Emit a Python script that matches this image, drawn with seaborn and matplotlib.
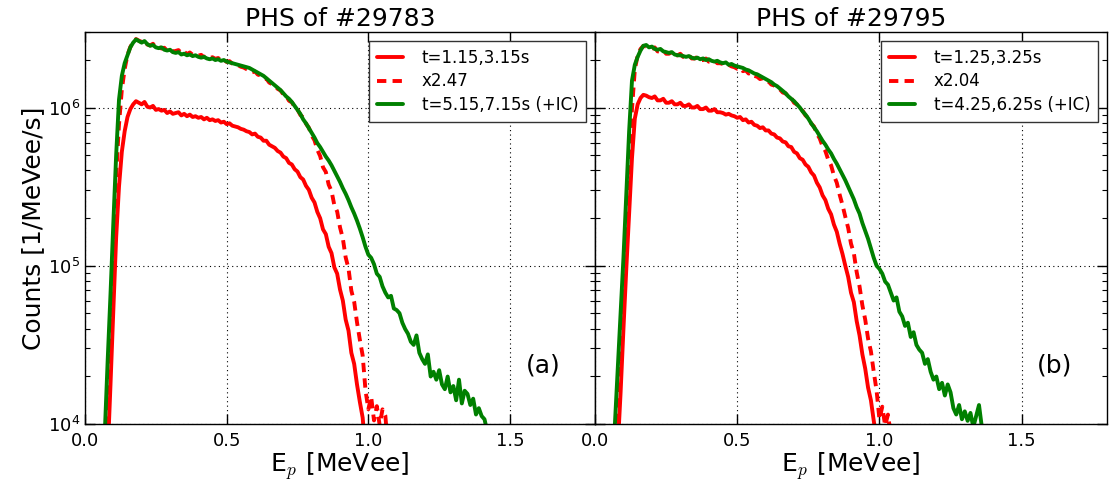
import numpy as np
import pandas as pd
import matplotlib
matplotlib.use("Agg")
import matplotlib.pyplot as plt
import seaborn as sns

nan = np.nan

# Energy bin centres [MeVee]
energy = [
    0.07, 0.08, 0.09, 0.10, 0.11, 0.12, 0.13, 0.14, 0.15, 0.16,
    0.17, 0.18, 0.19, 0.20, 0.21, 0.22, 0.23, 0.24, 0.25, 0.26,
    0.27, 0.28, 0.29, 0.30, 0.31, 0.32, 0.33, 0.34, 0.35, 0.36,
    0.37, 0.38, 0.39, 0.40, 0.41, 0.42, 0.43, 0.44, 0.45, 0.46,
    0.47, 0.48, 0.49, 0.50, 0.51, 0.52, 0.53, 0.54, 0.55, 0.56,
    0.57, 0.58, 0.59, 0.60, 0.61, 0.62, 0.63, 0.64, 0.65, 0.66,
    0.67, 0.68, 0.69, 0.70, 0.71, 0.72, 0.73, 0.74, 0.75, 0.76,
    0.77, 0.78, 0.79, 0.80, 0.81, 0.82, 0.83, 0.84, 0.85, 0.86,
    0.87, 0.88, 0.89, 0.90, 0.91, 0.92, 0.93, 0.94, 0.95, 0.96,
    0.97, 0.98, 0.99, 1.00, 1.01, 1.02, 1.03, 1.04, 1.05, 1.06,
    1.07, 1.08, 1.09, 1.10, 1.11, 1.12, 1.13, 1.14, 1.15, 1.16,
    1.17, 1.18, 1.19, 1.20, 1.21, 1.22, 1.23, 1.24, 1.25, 1.26,
    1.27, 1.28, 1.29, 1.30, 1.31, 1.32, 1.33, 1.34, 1.35, 1.36,
    1.37, 1.38, 1.39, 1.40, 1.41, 1.42, 1.43, 1.44, 1.45, 1.46,
]

# log10(counts [1/MeVee/s])
# --- #29783 ---
log_red_a = [
    3.40, 3.80, 4.25, 4.72, 5.18, 5.50, 5.72, 5.85, 5.94, 5.99,
    6.02, 6.04, 6.03, 6.02, 6.035, 6.005, 6.00, 6.01, 5.985, 5.99,
    5.98, 5.985, 5.965, 5.975, 5.96, 5.965, 5.97, 5.95, 5.96, 5.945,
    5.955, 5.94, 5.945, 5.935, 5.94, 5.925, 5.935, 5.92, 5.925, 5.915,
    5.92, 5.905, 5.91, 5.895, 5.90, 5.885, 5.88, 5.875, 5.865, 5.86,
    5.85, 5.845, 5.83, 5.835, 5.815, 5.81, 5.79, 5.79, 5.765, 5.755,
    5.745, 5.725, 5.715, 5.69, 5.68, 5.65, 5.64, 5.61, 5.595, 5.56,
    5.545, 5.505, 5.48, 5.43, 5.40, 5.34, 5.30, 5.23, 5.20, 5.12,
    5.08, 4.99, 4.95, 4.85, 4.78, 4.66, 4.59, 4.45, 4.38, 4.25,
    4.14, 4.04, 3.82, 3.70, 3.78, 3.63, 3.72, 3.60, 3.70, 3.66,
    3.45, nan, nan, nan, nan, nan, nan, nan, nan, nan,
    nan, nan, nan, nan, nan, nan, nan, nan, nan, nan,
    nan, nan, nan, nan, nan, nan, nan, nan, nan, nan,
    nan, nan, nan, nan, nan, nan, nan, nan, nan, nan,
]
log_green_a = [
    3.95, 4.40, 4.82, 5.27, 5.70, 6.05, 6.20, 6.28, 6.33, 6.38,
    6.41, 6.43, 6.42, 6.41, 6.42, 6.40, 6.39, 6.395, 6.38, 6.375,
    6.38, 6.365, 6.36, 6.365, 6.35, 6.345, 6.35, 6.335, 6.34, 6.33,
    6.335, 6.325, 6.33, 6.32, 6.315, 6.32, 6.31, 6.305, 6.31, 6.30,
    6.305, 6.295, 6.30, 6.29, 6.285, 6.28, 6.275, 6.27, 6.265, 6.26,
    6.255, 6.25, 6.24, 6.23, 6.22, 6.21, 6.20, 6.185, 6.17, 6.155,
    6.14, 6.125, 6.11, 6.09, 6.07, 6.055, 6.035, 6.01, 5.985, 5.96,
    5.925, 5.90, 5.87, 5.84, 5.81, 5.775, 5.75, 5.72, 5.69, 5.665,
    5.635, 5.60, 5.565, 5.53, 5.49, 5.455, 5.415, 5.37, 5.33, 5.285,
    5.235, 5.18, 5.12, 5.07, 5.05, 5.01, 4.95, 4.93, 4.87, 4.83,
    4.80, 4.81, 4.73, 4.72, 4.70, 4.64, 4.60, 4.57, 4.52, 4.50,
    4.56, 4.45, 4.41, 4.38, 4.44, 4.30, 4.33, 4.28, 4.34, 4.25,
    4.22, 4.30, 4.20, 4.24, 4.15, 4.28, 4.13, 4.21, 4.19, 4.12,
    4.16, 4.06, 4.10, 4.05, 4.03, 3.95, nan, nan, nan, nan,
]
scale_a = 2.47

# --- #29795 ---
log_red_b = [
    3.50, 3.85, 4.20, 4.60, 4.98, 5.33, 5.68, 5.93, 6.02, 6.06,
    6.08, 6.075, 6.065, 6.06, 6.07, 6.045, 6.045, 6.055, 6.03, 6.03,
    6.04, 6.02, 6.02, 6.03, 6.01, 6.01, 6.02, 6.00, 6.00, 6.01,
    5.99, 5.99, 6.00, 5.98, 5.98, 5.99, 5.97, 5.97, 5.965, 5.955,
    5.96, 5.95, 5.945, 5.935, 5.94, 5.92, 5.925, 5.905, 5.91, 5.89,
    5.885, 5.87, 5.875, 5.855, 5.855, 5.835, 5.83, 5.81, 5.805, 5.785,
    5.78, 5.755, 5.75, 5.72, 5.71, 5.68, 5.67, 5.64, 5.625, 5.59,
    5.57, 5.525, 5.495, 5.445, 5.415, 5.36, 5.325, 5.26, 5.215, 5.14,
    5.075, 5.00, 4.93, 4.83, 4.77, 4.65, 4.56, 4.44, 4.35, 4.23,
    4.15, 4.02, 3.90, 3.72, 3.80, 3.68, 3.75, 3.62, 3.70, 3.55,
    3.66, 3.45, nan, nan, nan, nan, nan, nan, nan, nan,
    nan, nan, nan, nan, nan, nan, nan, nan, nan, nan,
    nan, nan, nan, nan, nan, nan, nan, nan, nan, nan,
    nan, nan, nan, nan, nan, nan, nan, nan, nan, nan,
]
log_green_b = [
    4.00, 4.35, 4.70, 5.05, 5.45, 5.85, 6.17, 6.27, 6.32, 6.36,
    6.39, 6.395, 6.38, 6.385, 6.37, 6.365, 6.37, 6.355, 6.35, 6.345,
    6.35, 6.335, 6.33, 6.33, 6.325, 6.32, 6.325, 6.315, 6.31, 6.315,
    6.305, 6.31, 6.30, 6.305, 6.295, 6.29, 6.295, 6.285, 6.28, 6.285,
    6.27, 6.275, 6.265, 6.26, 6.255, 6.25, 6.24, 6.235, 6.225, 6.215,
    6.21, 6.20, 6.19, 6.18, 6.17, 6.16, 6.145, 6.135, 6.12, 6.105,
    6.09, 6.07, 6.055, 6.04, 6.02, 6.00, 5.975, 5.955, 5.93, 5.90,
    5.875, 5.85, 5.82, 5.79, 5.765, 5.735, 5.71, 5.675, 5.645, 5.61,
    5.575, 5.54, 5.50, 5.46, 5.42, 5.37, 5.33, 5.27, 5.22, 5.17,
    5.11, 5.05, 5.00, 4.98, 4.95, 4.90, 4.88, 4.83, 4.78, 4.80,
    4.71, 4.68, 4.62, 4.64, 4.55, 4.58, 4.50, 4.47, 4.45, 4.38,
    4.41, 4.33, 4.28, 4.30, 4.22, 4.26, 4.18, 4.25, 4.20, 4.10,
    4.06, 4.12, 4.03, 4.08, 4.02, 4.07, 3.98, 4.05, 4.12, 3.98,
    3.90, nan, nan, nan, nan, nan, nan, nan, nan, nan,
]
scale_b = 2.04

titles = ["PHS of #29783", "PHS of #29795"]
panel_tags = ["(a)", "(b)"]
labels_a = ["t=1.15,3.15s", "x2.47", "t=5.15,7.15s (+IC)"]
labels_b = ["t=1.25,3.25s", "x2.04", "t=4.25,6.25s (+IC)"]
xticks = [0.0, 0.5, 1.0, 1.5]
xtick_labels = ["0.0", "0.5", "1.0", "1.5"]

sns.set_style("ticks")
plt.rcParams["font.family"] = ["DejaVu Sans"]
plt.rcParams["mathtext.fontset"] = "cm"
for key in ["text.color", "axes.labelcolor", "xtick.color", "ytick.color",
            "axes.edgecolor"]:
    plt.rcParams[key] = "black"

fig = plt.figure(figsize=(11.09, 4.86), dpi=100)
W, H = 1109, 486
ax_a = fig.add_axes([85 / W, 1 - 424 / H, 510 / W, 392 / H])
ax_b = fig.add_axes([595 / W, 1 - 424 / H, 512 / W, 392 / H], sharey=ax_a)

panels = [
    (ax_a, log_red_a, log_green_a, scale_a, labels_a),
    (ax_b, log_red_b, log_green_b, scale_b, labels_b),
]

RED = "#ff0000"
GREEN = "#008000"
LW = 2.8

for i, (ax, lr, lg, sc, labs) in enumerate(panels):
    df = pd.DataFrame({
        "E": energy,
        "red": 10 ** np.array(lr, dtype=float),
        "green": 10 ** np.array(lg, dtype=float),
    })
    df["scaled"] = df["red"] * sc
    dr = df.dropna(subset=["red"])
    dg = df.dropna(subset=["green"])
    sns.lineplot(data=dr, x="E", y="red", ax=ax, color=RED, lw=LW,
                 label=labs[0], estimator=None, sort=False)
    sns.lineplot(data=dr, x="E", y="scaled", ax=ax, color=RED, lw=LW,
                 linestyle=(0, (2.4, 1.6)), label=labs[1],
                 estimator=None, sort=False)
    sns.lineplot(data=dg, x="E", y="green", ax=ax, color=GREEN, lw=LW,
                 label=labs[2], estimator=None, sort=False)

    ax.set_yscale("log")
    ax.set_xlim(0, 1.8)
    ax.set_ylim(1e4, 3e6)
    ax.set_xticks(xticks)
    ax.set_xticklabels(xtick_labels)
    ax.grid(True, which="major", color="black", linestyle=(0, (1, 3)),
            linewidth=0.8)
    ax.tick_params(which="both", direction="in", top=True, right=True,
                   labelsize=13, color="black", labelcolor="black")
    ax.tick_params(which="major", length=7, width=1)
    ax.tick_params(which="minor", length=3.5, width=0.8)
    ax.tick_params(axis="x", which="major", pad=6)
    ax.tick_params(axis="x", which="minor", bottom=False, top=False)
    for s in ax.spines.values():
        s.set_color("black")
        s.set_linewidth(1.0)
    ax.set_title(titles[i], fontsize=18, pad=4, color="black")
    ax.set_xlabel(r"E$_p$ [MeVee]", fontsize=18, labelpad=0, color="black")
    ax.text(0.898, 0.15, panel_tags[i], transform=ax.transAxes,
            fontsize=18, ha="center", va="center", color="black")
    leg = ax.legend(loc="upper right", fontsize=12, fancybox=False,
                    framealpha=1, edgecolor="0.2", handlelength=1.6,
                    handletextpad=1.1, borderaxespad=0.55,
                    labelspacing=0.35, borderpad=0.45)
    leg.get_frame().set_linewidth(1.0)
    for t in leg.get_texts():
        t.set_color("black")

ax_a.set_ylabel("Counts [1/MeVee/s]", fontsize=18, labelpad=2, color="black")
ax_b.set_ylabel("")
ax_b.tick_params(axis="y", which="both", labelleft=False)

fig.savefig("out.png", dpi=100)
